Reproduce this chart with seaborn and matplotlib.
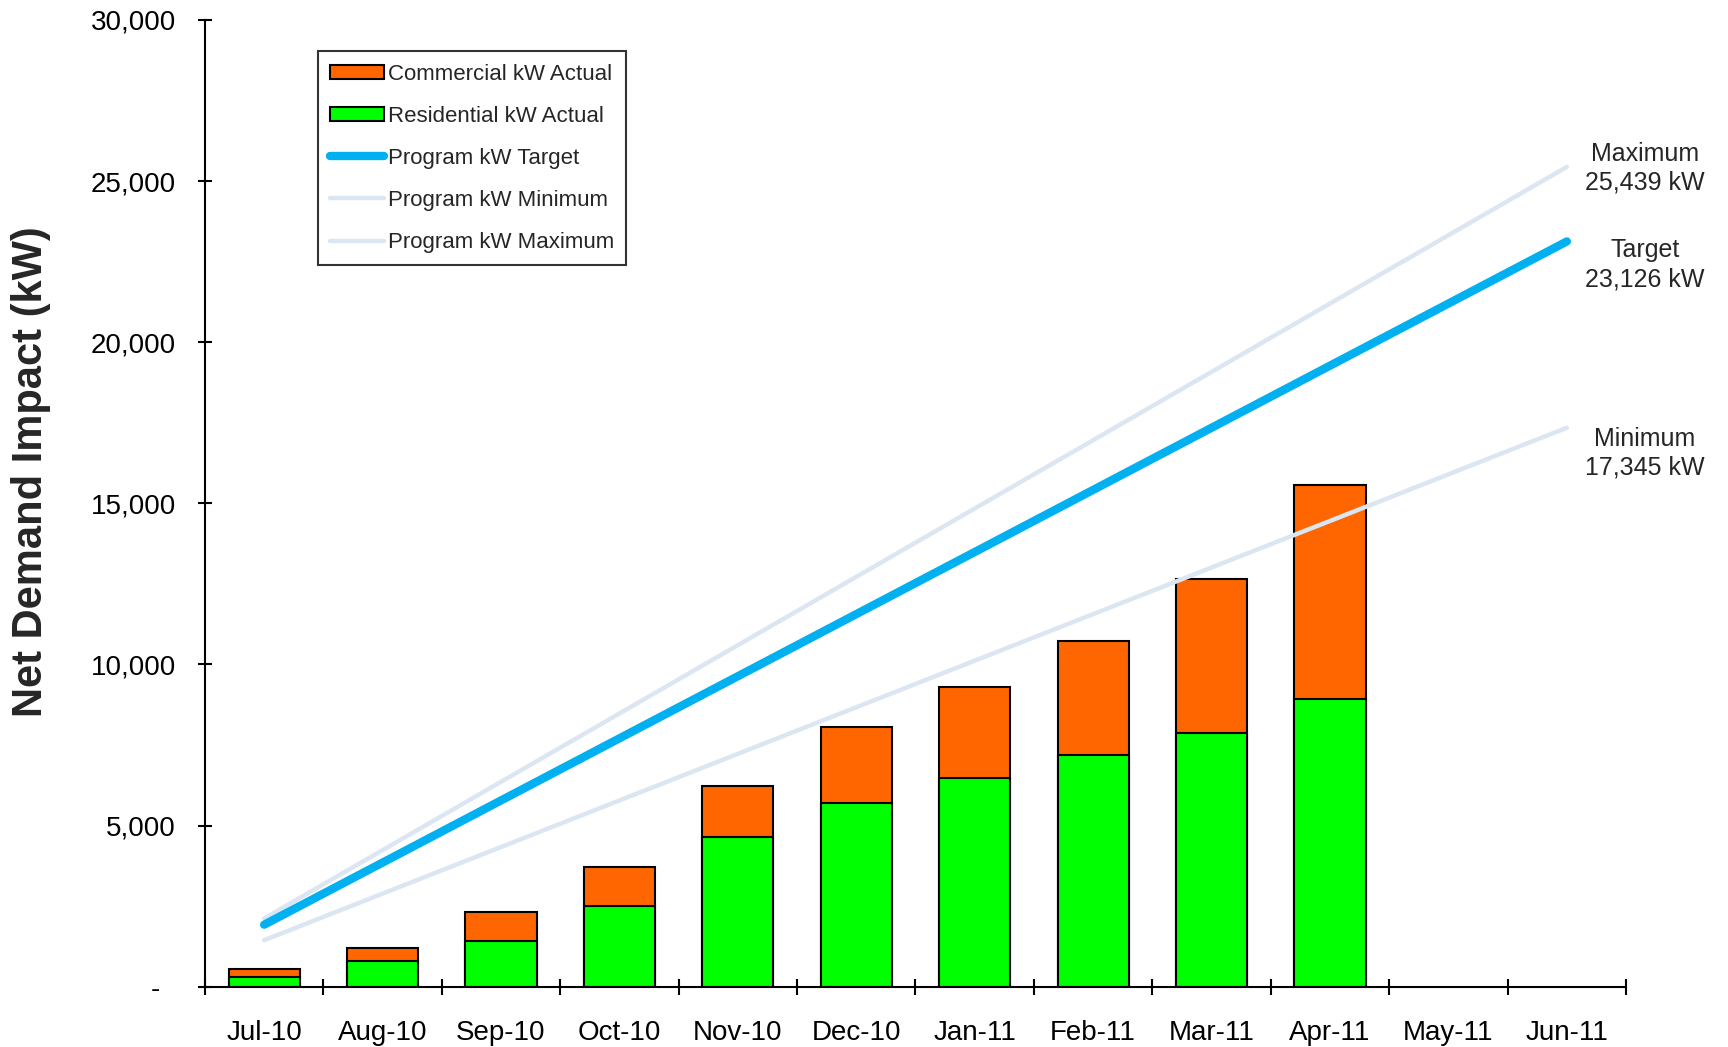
import numpy as np
import pandas as pd
import matplotlib
matplotlib.use("Agg")
import matplotlib.pyplot as plt
import seaborn as sns
from matplotlib.patches import Patch
from matplotlib.lines import Line2D
from matplotlib.ticker import FuncFormatter, FixedLocator

months = ["Jul-10", "Aug-10", "Sep-10", "Oct-10", "Nov-10", "Dec-10",
          "Jan-11", "Feb-11", "Mar-11", "Apr-11", "May-11", "Jun-11"]

# actuals (only through Apr-11)
residential = [300, 810, 1430, 2520, 4650, 5700, 6490, 7180, 7890, 8920, np.nan, np.nan]
commercial = [250, 380, 880, 1200, 1570, 2370, 2810, 3560, 4760, 6640, np.nan, np.nan]

# program lines
target = [1927, 3854, 5782, 7709, 9636, 11563, 13490, 15417, 17345, 19272, 21199, 23126]
minimum = [1445, 2891, 4336, 5782, 7227, 8673, 10118, 11563, 13009, 14454, 15900, 17345]
maximum = [2120, 4240, 6360, 8480, 10600, 12720, 14840, 16959, 19079, 21199, 23319, 25439]

end_labels = [("Maximum\n25,439 kW", 25400), ("Target\n23,126 kW", 22400),
              ("Minimum\n17,345 kW", 16550)]

df = pd.DataFrame({"month": months, "residential": residential,
                   "commercial": commercial, "target": target,
                   "minimum": minimum, "maximum": maximum})
df["total"] = df["residential"] + df["commercial"]
df["pos"] = np.arange(len(df))

sns.set_style("white")
plt.rcParams["font.family"] = ["Liberation Sans", "DejaVu Sans"]

orange = "#FF6600"
green = "#00FF00"
blue = "#00B0F0"
pale = "#DCE6F2"

fig = plt.figure(figsize=(17.28, 10.47), dpi=100)
ax = fig.add_axes([0.1186, 0.0575, 0.8224, 0.9235])

# stacked bars: total in orange, residential drawn over it
sns.barplot(data=df, x="month", y="total", order=months, color=orange,
            saturation=1, width=0.6, edgecolor="black", linewidth=1.5, ax=ax)
sns.barplot(data=df, x="month", y="residential", order=months, color=green,
            saturation=1, width=0.6, edgecolor="black", linewidth=1.5, ax=ax)

sns.lineplot(data=df, x="pos", y="minimum", color=pale, linewidth=3.2,
             solid_capstyle="round", ax=ax)
sns.lineplot(data=df, x="pos", y="maximum", color=pale, linewidth=3.2,
             solid_capstyle="round", ax=ax)
sns.lineplot(data=df, x="pos", y="target", color=blue, linewidth=6,
             solid_capstyle="round", ax=ax)

ax.set_xlim(-0.5, 11.5)
ax.set_ylim(0, 30000)
ax.set_xlabel("")
ax.set_ylabel("Net Demand Impact (kW)", fontsize=30, fontweight="bold")
ax.yaxis.set_label_coords(-0.108, 0.533)

for s in ["top", "right"]:
    ax.spines[s].set_visible(False)
for s in ["left", "bottom"]:
    ax.spines[s].set_color("black")
    ax.spines[s].set_linewidth(1.5)

ax.set_yticks(np.arange(0, 30001, 5000))
ax.yaxis.set_major_formatter(FuncFormatter(lambda v, p: "-  " if v == 0 else f"{v:,.0f}"))
ax.tick_params(axis="y", direction="inout", length=10, width=1.5, labelsize=20,
               pad=16, left=True, colors="black")

ax.set_xticks(np.arange(12))
ax.set_xticklabels(months)
ax.xaxis.set_minor_locator(FixedLocator(np.arange(-0.5, 12, 1)))
ax.tick_params(axis="x", which="major", length=0, labelsize=20, pad=24,
               colors="black")
ax.tick_params(axis="x", which="minor", direction="inout", length=12,
               width=1.5, bottom=True, color="black")

for txt, yv in end_labels:
    ax.text(11.66, yv, txt, ha="center", va="center", fontsize=18,
            linespacing=1.25, clip_on=False)

handles = [
    Patch(facecolor=orange, edgecolor="black", linewidth=1.5),
    Patch(facecolor=green, edgecolor="black", linewidth=1.5),
    Line2D([], [], color=blue, linewidth=6, solid_capstyle="round"),
    Line2D([], [], color=pale, linewidth=3.2, solid_capstyle="round"),
    Line2D([], [], color=pale, linewidth=3.2, solid_capstyle="round"),
]
labels = ["Commercial kW Actual", "Residential kW Actual", "Program kW Target",
          "Program kW Minimum", "Program kW Maximum"]
leg = ax.legend(handles, labels, loc="upper left", bbox_to_anchor=(0.184, 0.951),
                bbox_transform=fig.transFigure, fontsize=16, frameon=True,
                fancybox=False, edgecolor="black", handlelength=2.4,
                handleheight=0.6, handletextpad=0.2, labelspacing=0.95,
                borderpad=0.55, borderaxespad=0)
leg.get_frame().set_linewidth(1.5)

fig.savefig("out.png", dpi=100)
